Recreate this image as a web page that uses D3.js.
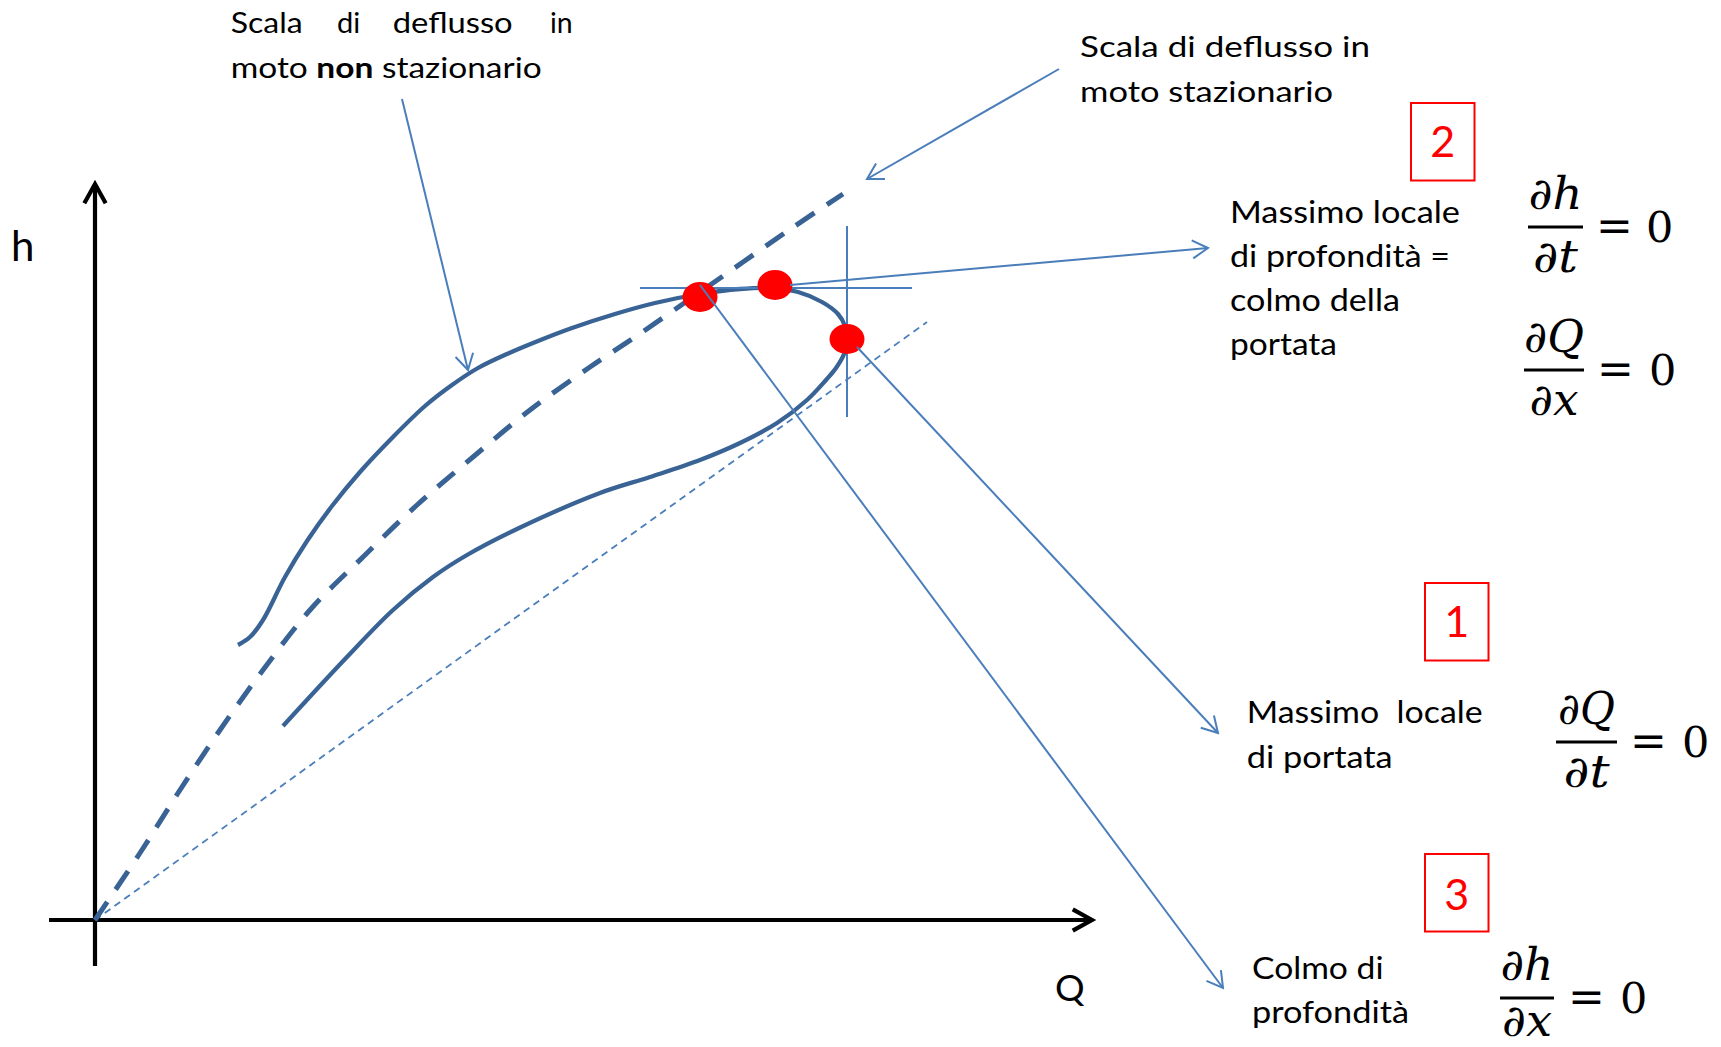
<!DOCTYPE html>
<html>
<head>
<meta charset="utf-8">
<script src="https://cdn.jsdelivr.net/npm/d3@7"></script>
<style>
  html, body { margin: 0; padding: 0; background: #ffffff; }
  svg { display: block; }
</style>
</head>
<body>
<svg id="chart" width="1721" height="1047"></svg>
<script>
// ---- Data (discharge Q, stage h, arbitrary units) ----

// Unsteady-flow rating loop: rising limb (upper branch) over the crest and back along the falling limb
const unsteadyLoop = [
  [1.43, 2.75], [1.55, 2.83], [1.68, 3.00], [1.90, 3.43], [2.12, 3.79], [2.37, 4.14],
  [2.65, 4.48], [2.97, 4.82], [3.30, 5.14], [3.57, 5.35], [3.83, 5.52], [4.12, 5.66],
  [4.43, 5.79], [4.77, 5.92], [5.20, 6.06], [5.60, 6.17], [6.05, 6.26], [6.45, 6.31],
  [6.75, 6.32], [7.03, 6.28], [7.27, 6.18], [7.43, 6.06], [7.50, 5.94], [7.52, 5.81],
  [7.49, 5.66], [7.41, 5.52], [7.31, 5.40], [7.12, 5.20], [6.82, 4.97], [6.45, 4.77],
  [6.05, 4.60], [5.55, 4.43], [5.05, 4.27], [4.22, 3.91], [3.72, 3.65],
  [3.38, 3.43], [2.98, 3.10], [2.51, 2.62], [1.88, 1.94]
];

// Steady-flow rating curve through the origin
const steadyRating = [
  [0, 0], [0.45, 0.67], [0.85, 1.30], [1.25, 1.90], [1.68, 2.50], [2.15, 3.10],
  [2.68, 3.63], [3.22, 4.15], [3.78, 4.63], [4.35, 5.10], [4.95, 5.53], [5.43, 5.85],
  [6.18, 6.37], [6.97, 6.92], [7.48, 7.26]
];

// Straight reference chord from the origin
const chord = [[0, 0], [8.32, 5.98]];

// Characteristic points on the loop
const peakIds = ["3", "2", "1"];
const peakQ = [6.05, 6.80, 7.52];
const peakH = [6.23, 6.35, 5.81];

// Tangent cross at the crest (horizontal) and at the discharge maximum (vertical)
const crestLevel = 6.32, crestQRange = [5.45, 8.17];
const maxQValue = 7.52, maxQHRange = [5.03, 6.94];

// Label texts
const titleUnsteady1 = ["Scala", "di", "deflusso", "in"];
const titleSteady = ["Scala di deflusso in", "moto stazionario"];
const label2 = ["Massimo locale", "di profondità =", "colmo della", "portata"];
const label1 = ["Massimo  locale", "di portata"];
const label3 = ["Colmo di", "profondità"];

// ---- Scales ----
const x = d3.scaleLinear().domain([0, 10]).range([95, 1095]);
const y = d3.scaleLinear().domain([0, 7.5]).range([920, 170]);

const svg = d3.select("#chart");
const DARK = "#3a6395";
const THIN = "#4a7ebb";
const TXT = "'Lato', 'Open Sans', 'Noto Sans', sans-serif";
const MATH = "'DejaVu Serif', 'Liberation Serif', serif";

// Open "V" arrowhead at (x2, y2)
function arrow(g, x1, y1, x2, y2, opts) {
  const { len, ang, color, width } = opts;
  g.append("line")
    .attr("x1", x1).attr("y1", y1).attr("x2", x2).attr("y2", y2)
    .attr("stroke", color).attr("stroke-width", width);
  const a = Math.atan2(y1 - y2, x1 - x2);
  const p1 = [x2 + len * Math.cos(a + ang), y2 + len * Math.sin(a + ang)];
  const p2 = [x2 + len * Math.cos(a - ang), y2 + len * Math.sin(a - ang)];
  g.append("path")
    .attr("d", `M${p1[0]},${p1[1]}L${x2},${y2}L${p2[0]},${p2[1]}`)
    .attr("fill", "none").attr("stroke", color).attr("stroke-width", width)
    .attr("stroke-linejoin", "miter");
}

// ---- Axes ----
const axes = svg.append("g");
const axOpts = { len: 22, ang: Math.PI / 6.2, color: "#000", width: 4.2 };
arrow(axes, x(0), y(-0.46), x(0), y(7.36), axOpts);
arrow(axes, x(-0.46), y(0), x(9.97), y(0), axOpts);

axes.append("text").attr("x", 11).attr("y", 261)
  .attr("font-family", TXT).attr("font-size", 42).text("h");
axes.append("text").attr("x", 1055).attr("y", 1001)
  .attr("font-family", TXT).attr("font-size", 37).text("Q");

// ---- Curves ----
const line = d3.line().x(d => x(d[0])).y(d => y(d[1]));
const smooth = d3.line().x(d => x(d[0])).y(d => y(d[1])).curve(d3.curveCatmullRom.alpha(0.5));

svg.append("path").datum(chord).attr("d", line)
  .attr("fill", "none").attr("stroke", THIN).attr("stroke-width", 1.8)
  .attr("stroke-dasharray", "7 5");

svg.append("path").datum(steadyRating).attr("d", smooth)
  .attr("fill", "none").attr("stroke", DARK).attr("stroke-width", 5)
  .attr("stroke-dasharray", "22 15");

svg.append("path").datum(unsteadyLoop).attr("d", smooth)
  .attr("fill", "none").attr("stroke", DARK).attr("stroke-width", 4.3);

// ---- Tangent cross ----
const cross = svg.append("g").attr("stroke", THIN).attr("stroke-width", 2);
cross.append("line")
  .attr("x1", x(crestQRange[0])).attr("x2", x(crestQRange[1]))
  .attr("y1", y(crestLevel)).attr("y2", y(crestLevel));
cross.append("line")
  .attr("x1", x(maxQValue)).attr("x2", x(maxQValue))
  .attr("y1", y(maxQHRange[0])).attr("y2", y(maxQHRange[1]));

// ---- Characteristic points ----
const peaks = peakIds.map((id, i) => ({ id, Q: peakQ[i], h: peakH[i] }));
svg.append("g").selectAll("ellipse").data(peaks).join("ellipse")
  .attr("cx", d => x(d.Q)).attr("cy", d => y(d.h))
  .attr("rx", 17.5).attr("ry", 15).attr("fill", "#ff0000");

// ---- Leader arrows ----
const ann = svg.append("g");
const annOpts = { len: 18, ang: Math.PI / 6, color: THIN, width: 2 };
const byId = Object.fromEntries(peaks.map(d => [d.id, d]));
// crest of the loop -> label 2
arrow(ann, x(byId["2"].Q) + 15, y(byId["2"].h), 1208, 248, annOpts);
// discharge maximum -> label 1
arrow(ann, x(byId["1"].Q) + 10, y(byId["1"].h) + 8, 1218, 733, annOpts);
// depth crest -> label 3
arrow(ann, x(byId["3"].Q), y(byId["3"].h) - 12, 1223, 988, annOpts);
// curve names
arrow(ann, 402, 99, x(3.73), y(5.50), annOpts);
arrow(ann, 1059, 69, x(7.72), y(7.41), annOpts);

// ---- Text labels ----
const txt = svg.append("g").attr("font-family", TXT).attr("fill", "#000");

function fitted(g, str, x0, base, len, size) {
  const t = g.append("text").attr("x", x0).attr("y", base).attr("font-size", size).text(str);
  if (len) t.attr("textLength", len).attr("lengthAdjust", "spacingAndGlyphs");
  return t;
}

// justified two-line title (unsteady)
const wordX = [230.7, 337, 392.7, 550];
const wordW = [72, null, 120, 22.7];
titleUnsteady1.forEach((w, i) => fitted(txt, w, wordX[i], 33, wordW[i], 29));
const t2 = txt.append("text").attr("x", 230.7).attr("y", 78)
  .attr("font-size", 29).attr("textLength", 311).attr("lengthAdjust", "spacingAndGlyphs");
t2.append("tspan").text("moto ");
t2.append("tspan").attr("font-weight", "bold").text("non");
t2.append("tspan").text(" stazionario");

// steady title
fitted(txt, titleSteady[0], 1080, 57, 290, 29);
fitted(txt, titleSteady[1], 1080, 101.5, 253, 29);

// block 2
const l2len = [230, 220, 170, 107];
const l2base = [222.5, 266.5, 310.5, 355];
label2.forEach((s, i) => fitted(txt, s, 1230, l2base[i], l2len[i], 30.5));

// block 1
fitted(txt, label1[0], 1246.7, 723.3, 236, 30.5).attr("xml:space", "preserve");
fitted(txt, label1[1], 1246.7, 768, 146, 30.5);

// block 3
fitted(txt, label3[0], 1252, 979, 131.5, 30.5);
fitted(txt, label3[1], 1252, 1023.3, 157, 30.5);

// ---- Numbered red boxes ----
const boxes = [
  { n: "2", x0: 1411, y0: 103, base: 157 },
  { n: "1", x0: 1425, y0: 583, base: 637 },
  { n: "3", x0: 1425, y0: 854, base: 910 }
];
const bx = svg.append("g");
boxes.forEach(b => {
  bx.append("rect").attr("x", b.x0).attr("y", b.y0).attr("width", 63.5).attr("height", 77.5)
    .attr("fill", "none").attr("stroke", "#ff0000").attr("stroke-width", 2);
  bx.append("text").attr("x", b.x0 + 31.75).attr("y", b.base)
    .attr("text-anchor", "middle").attr("font-family", TXT).attr("font-size", 43)
    .attr("fill", "#ff0000").text(b.n);
});

// ---- Partial-derivative conditions ----
const mg = svg.append("g").attr("font-family", MATH).attr("fill", "#000");
function fraction(o) {
  const cx = (o.x1 + o.x2) / 2;
  mg.append("line").attr("x1", o.x1).attr("x2", o.x2).attr("y1", o.bar).attr("y2", o.bar)
    .attr("stroke", "#000").attr("stroke-width", 3);
  mg.append("text").attr("x", cx).attr("y", o.bar - 18).attr("text-anchor", "middle")
    .attr("font-size", 44).attr("font-style", "italic")
    .attr("textLength", o.nw).attr("lengthAdjust", "spacingAndGlyphs").text(o.num);
  mg.append("text").attr("x", cx).attr("y", Math.min(o.bar + 45, 1036)).attr("text-anchor", "middle")
    .attr("font-size", 44).attr("font-style", "italic")
    .attr("textLength", o.dw).attr("lengthAdjust", "spacingAndGlyphs").text(o.den);
  mg.append("text").attr("x", o.eq - 3).attr("y", o.bar + 14).attr("font-size", 44).text("=");
  mg.append("text").attr("x", o.zero).attr("y", o.bar + 15).attr("font-size", 43).text("0");
}
fraction({ num: "∂h", den: "∂t", x1: 1528, x2: 1583, bar: 227, nw: 54, dw: 45, eq: 1599, zero: 1646 });
fraction({ num: "∂Q", den: "∂x", x1: 1524, x2: 1584, bar: 370, nw: 60, dw: 49, eq: 1600, zero: 1649 });
fraction({ num: "∂Q", den: "∂t", x1: 1556, x2: 1617, bar: 742, nw: 57, dw: 46, eq: 1633, zero: 1682 });
fraction({ num: "∂h", den: "∂x", x1: 1500, x2: 1554, bar: 998, nw: 53, dw: 50, eq: 1571, zero: 1620 });
</script>
</body>
</html>
